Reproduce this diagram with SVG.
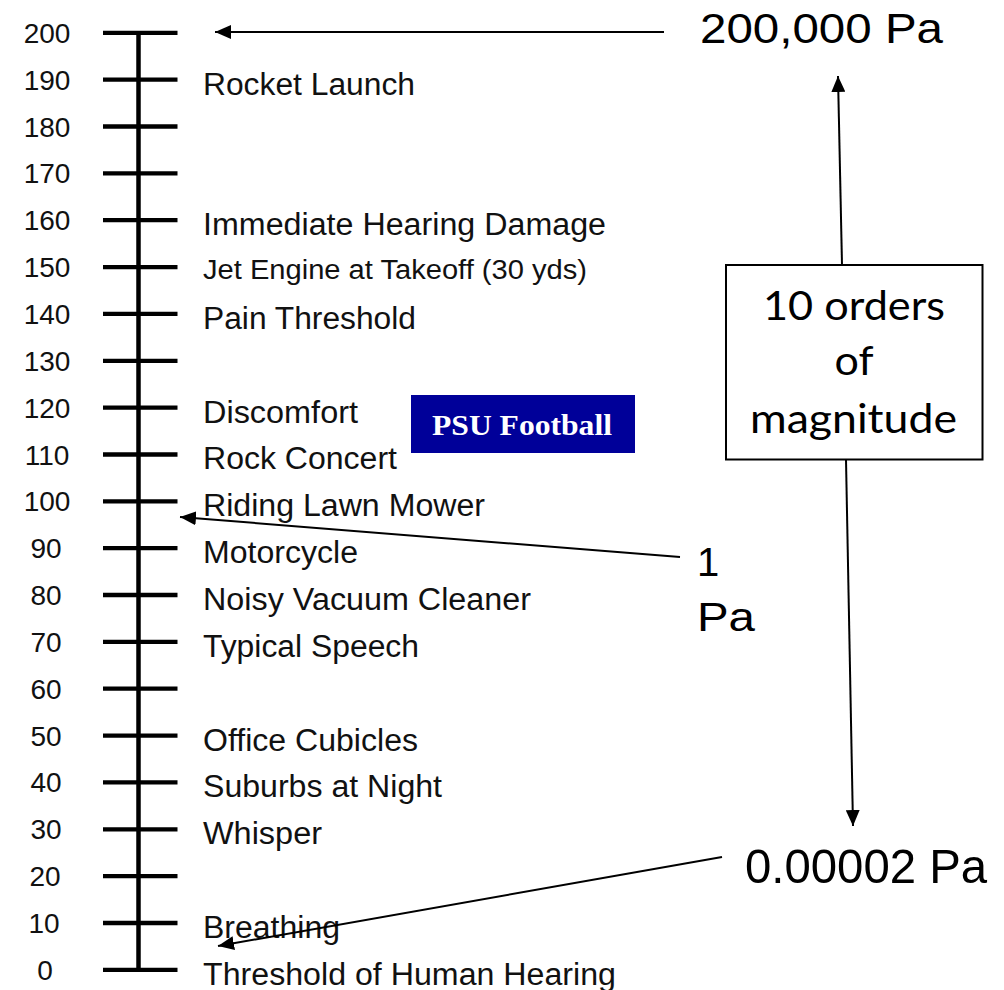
<svg xmlns="http://www.w3.org/2000/svg" width="1004" height="990" viewBox="0 0 1004 990">
<defs>
<style>
.num{font-family:"Liberation Sans",Arial,sans-serif;font-size:28px;fill:#111;text-anchor:middle}
.lbl{font-family:"Liberation Sans",Arial,sans-serif;font-size:31px;fill:#111}
.small{font-size:27px}
.call{font-family:"Liberation Sans",Arial,sans-serif;fill:#000}
.cal{font-family:Lato,"Open Sans",sans-serif;font-size:41px;fill:#000;text-anchor:middle}
.tick{stroke:#000;stroke-width:4.3}
.conn{stroke:#000;stroke-width:2;fill:none;marker-end:url(#ah)}
</style>
<marker id="ah" markerWidth="16" markerHeight="14" refX="16" refY="7" orient="auto" markerUnits="userSpaceOnUse">
<path d="M0,0 L16,7 L0,14 z" fill="#000"/>
</marker>
</defs>
<rect width="1004" height="990" fill="#fff"/>
<g id="scale">
<line x1="138.5" y1="32.8" x2="138.5" y2="969.8" stroke="#000" stroke-width="4.5"/>
<g class="tick">
<line x1="103" x2="177.5" y1="32.8" y2="32.8"/>
<line x1="103" x2="177.5" y1="79.7" y2="79.7"/>
<line x1="103" x2="177.5" y1="126.5" y2="126.5"/>
<line x1="103" x2="177.5" y1="173.4" y2="173.4"/>
<line x1="103" x2="177.5" y1="220.2" y2="220.2"/>
<line x1="103" x2="177.5" y1="267.1" y2="267.1"/>
<line x1="103" x2="177.5" y1="313.9" y2="313.9"/>
<line x1="103" x2="177.5" y1="360.8" y2="360.8"/>
<line x1="103" x2="177.5" y1="407.6" y2="407.6"/>
<line x1="103" x2="177.5" y1="454.5" y2="454.5"/>
<line x1="103" x2="177.5" y1="501.3" y2="501.3"/>
<line x1="103" x2="177.5" y1="548.2" y2="548.2"/>
<line x1="103" x2="177.5" y1="595" y2="595"/>
<line x1="103" x2="177.5" y1="641.9" y2="641.9"/>
<line x1="103" x2="177.5" y1="688.7" y2="688.7"/>
<line x1="103" x2="177.5" y1="735.6" y2="735.6"/>
<line x1="103" x2="177.5" y1="782.4" y2="782.4"/>
<line x1="103" x2="177.5" y1="829.3" y2="829.3"/>
<line x1="103" x2="177.5" y1="876.1" y2="876.1"/>
<line x1="103" x2="177.5" y1="923" y2="923"/>
<line x1="103" x2="177.5" y1="969.8" y2="969.8"/>
</g>
<g id="numbers">
<text class="num" x="47" y="42.8">200</text>
<text class="num" x="47" y="89.7">190</text>
<text class="num" x="47" y="136.5">180</text>
<text class="num" x="47" y="183.4">170</text>
<text class="num" x="47" y="230.2">160</text>
<text class="num" x="47" y="277.1">150</text>
<text class="num" x="47" y="323.9">140</text>
<text class="num" x="47" y="370.8">130</text>
<text class="num" x="47" y="417.6">120</text>
<text class="num" x="47" y="464.5">110</text>
<text class="num" x="47" y="511.3">100</text>
<text class="num" x="46" y="558.2">90</text>
<text class="num" x="46" y="605">80</text>
<text class="num" x="46" y="651.9">70</text>
<text class="num" x="46" y="698.7">60</text>
<text class="num" x="46" y="745.6">50</text>
<text class="num" x="46" y="792.4">40</text>
<text class="num" x="46" y="839.3">30</text>
<text class="num" x="45" y="886.1">20</text>
<text class="num" x="44" y="933">10</text>
<text class="num" x="45" y="979.8">0</text>
</g>
</g>
<g id="labels">
<g id="l190"><text class="lbl" x="203" y="94.6" textLength="212" lengthAdjust="spacingAndGlyphs">Rocket Launch</text></g>
<g id="l160"><text class="lbl" x="203" y="235.1" textLength="403" lengthAdjust="spacingAndGlyphs">Immediate Hearing Damage</text></g>
<g id="l150"><text class="lbl small" x="203" y="279.2" textLength="384" lengthAdjust="spacingAndGlyphs">Jet Engine at Takeoff (30 yds)</text></g>
<g id="l140"><text class="lbl" x="203" y="328.8" textLength="213" lengthAdjust="spacingAndGlyphs">Pain Threshold</text></g>
<g id="l120"><text class="lbl" x="203" y="422.5" textLength="155" lengthAdjust="spacingAndGlyphs">Discomfort</text></g>
<g id="l110"><text class="lbl" x="203" y="469.4" textLength="194" lengthAdjust="spacingAndGlyphs">Rock Concert</text></g>
<g id="l100"><text class="lbl" x="203" y="516.2" textLength="282" lengthAdjust="spacingAndGlyphs">Riding Lawn Mower</text></g>
<g id="l90"><text class="lbl" x="203" y="563.1" textLength="155" lengthAdjust="spacingAndGlyphs">Motorcycle</text></g>
<g id="l80"><text class="lbl" x="203" y="609.9" textLength="328" lengthAdjust="spacingAndGlyphs">Noisy Vacuum Cleaner</text></g>
<g id="l70"><text class="lbl" x="203" y="656.8" textLength="216" lengthAdjust="spacingAndGlyphs">Typical Speech</text></g>
<g id="l50"><text class="lbl" x="203" y="750.5" textLength="215" lengthAdjust="spacingAndGlyphs">Office Cubicles</text></g>
<g id="l40"><text class="lbl" x="203" y="797.3" textLength="239" lengthAdjust="spacingAndGlyphs">Suburbs at Night</text></g>
<g id="l30"><text class="lbl" x="203" y="844.2" textLength="119" lengthAdjust="spacingAndGlyphs">Whisper</text></g>
<g id="l10"><text class="lbl" x="203" y="937.9" textLength="137" lengthAdjust="spacingAndGlyphs">Breathing</text></g>
<g id="l0"><text class="lbl" x="203" y="984.7" textLength="413" lengthAdjust="spacingAndGlyphs">Threshold of Human Hearing</text></g>
</g>
<g id="psu">
<rect x="411" y="395" width="224" height="58" fill="#000099"/>
<text x="432" y="435" font-family="'Liberation Serif','Times New Roman',serif" font-weight="bold" font-size="30" fill="#fff" textLength="180" lengthAdjust="spacingAndGlyphs">PSU Football</text>
</g>
<g id="p200000"><text class="call" x="700" y="43" font-size="42" textLength="243" lengthAdjust="spacingAndGlyphs">200,000 Pa</text></g>
<g id="p1">
<text class="call" x="697" y="576" font-size="40">1</text>
<text class="call" x="697" y="631" font-size="40" textLength="58" lengthAdjust="spacingAndGlyphs">Pa</text>
</g>
<g id="p00002"><text class="call" x="745" y="883" font-size="49" textLength="242" lengthAdjust="spacingAndGlyphs">0.00002 Pa</text></g>
<g id="orders">
<rect x="726" y="265" width="256.5" height="194.5" fill="#fff" stroke="#000" stroke-width="2"/>
<text class="cal" x="854" y="320" textLength="182" lengthAdjust="spacingAndGlyphs">10 orders</text>
<text class="cal" x="854" y="375" textLength="39" lengthAdjust="spacingAndGlyphs">of</text>
<text class="cal" x="853.5" y="433" textLength="207" lengthAdjust="spacingAndGlyphs">magnitude</text>
</g>
<g id="connectors">
<path class="conn" d="M664,32 L215,32"/>
<path class="conn" d="M842,265 L838,76"/>
<path class="conn" d="M846,459.5 L853,826"/>
<path class="conn" d="M680,557 L180,517"/>
<path class="conn" d="M722,857 L218,946"/>
</g>
</svg>
